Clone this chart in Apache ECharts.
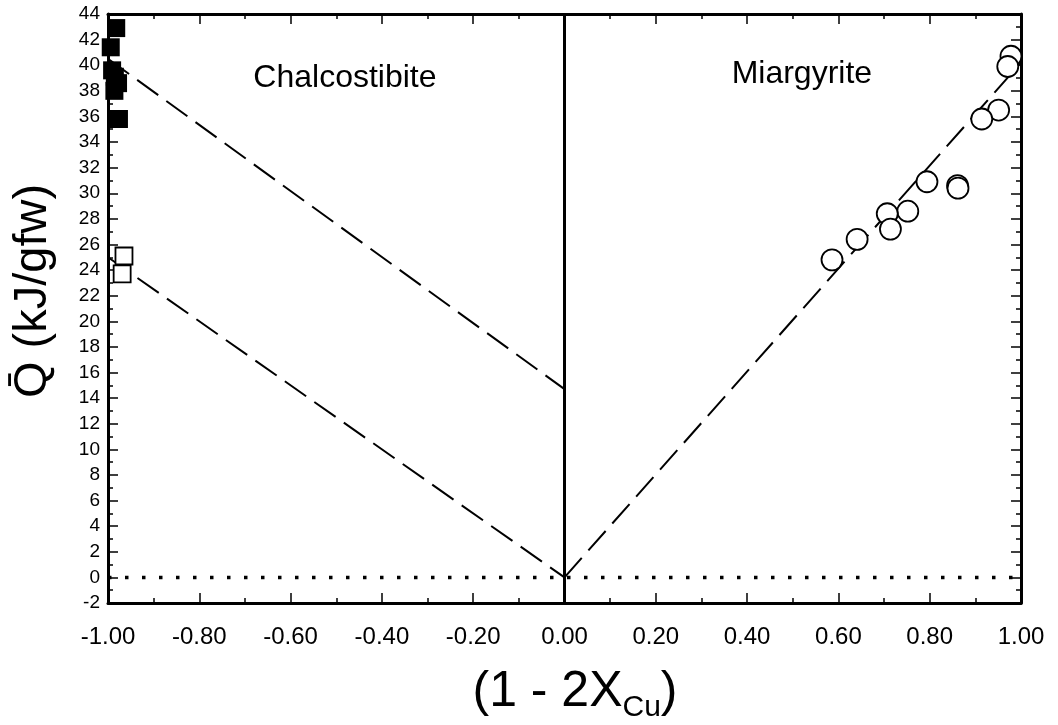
<!DOCTYPE html>
<html>
<head>
<meta charset="utf-8">
<script src="https://cdn.jsdelivr.net/npm/echarts@6/dist/echarts.min.js"></script>
<style>
  html, body { margin: 0; padding: 0; background: #fff; }
  #chart { width: 1058px; height: 725px; }
</style>
</head>
<body>
<div id="chart"></div>
<script>
  // chalcostibite, filled squares
  var chalcFilled = [[-0.982, 42.9], [-0.994, 41.4], [-0.991, 39.6], [-0.985, 39.1], [-0.978, 38.6], [-0.986, 38.0], [-0.976, 35.8]];
  // chalcostibite, open squares
  var chalcOpen = [[-0.965, 25.1], [-0.969, 23.7]];
  // miargyrite, open circles
  var miarg = [[0.978, 40.7], [0.971, 39.9], [0.951, 36.5], [0.914, 35.8], [0.794, 30.9], [0.861, 30.6], [0.862, 30.4],
    [0.752, 28.6], [0.707, 28.4], [0.714, 27.2], [0.641, 26.4], [0.586, 24.8]];
  // dashed fit lines
  var chalcUpperLine = [[-1.0, 40.5], [0.0, 14.7]];
  var chalcLowerLine = [[-1.0, 25.0], [0.0, 0.0]];
  var miargLine = [[0.0, 0.0], [1.0, 40.2]];
  var zeroVertical = [[0.0, -2], [0.0, 44]];
  var zeroHorizontal = [[-1.0, 0.0], [1.0, 0.0]];
  var phaseLabels = [['Chalcostibite', -0.481, 39.0], ['Miargyrite', 0.52, 39.3]];

  var FONT = '"Liberation Sans", Arial, sans-serif';
  var chart = echarts.init(document.getElementById('chart'));

  function axisBase(extra) {
    var a = {
      axisLine: {show: true, onZero: false, lineStyle: {color: '#000', width: 3}},
      axisTick: {show: true, inside: true, length: 10, lineStyle: {color: '#000', width: 1.5}},
      minorTick: {show: true, splitNumber: 2, length: 5, lineStyle: {color: '#000', width: 1.5}},
      splitLine: {show: false},
      minorSplitLine: {show: false}
    };
    for (var k in extra) a[k] = extra[k];
    return a;
  }

  var option = {
    backgroundColor: '#fff',
    animation: false,
    grid: {left: 108, right: 37, top: 14, bottom: 122},
    xAxis: [
      axisBase({
        type: 'value', min: -1, max: 1, interval: 0.2, position: 'bottom',
        axisLabel: {
          color: '#000', fontFamily: FONT, fontSize: 24, margin: 22,
          formatter: function (v) { return v.toFixed(2); }
        }
      }),
      axisBase({
        type: 'value', min: -1, max: 1, interval: 0.2, position: 'top',
        axisLabel: {show: false}
      })
    ],
    yAxis: [
      axisBase({
        type: 'value', min: -2, max: 44, interval: 2, position: 'left',
        axisLabel: {color: '#000', fontFamily: FONT, fontSize: 19, margin: 8}
      }),
      axisBase({
        type: 'value', min: -2, max: 44, interval: 2, position: 'right',
        axisLabel: {show: false}
      })
    ],
    graphic: [
      {
        type: 'text', x: 33, y: 291, rotation: Math.PI / 2,
        style: {
          text: 'Q\u0304 (kJ/gfw)', font: '47px ' + FONT, fill: '#000',
          align: 'center', verticalAlign: 'middle'
        }
      },
      {
        type: 'text', x: 575, y: 695,
        style: {
          text: '{a|(1 - 2X}{b|Cu}{a|)}', fill: '#000',
          align: 'center', verticalAlign: 'middle',
          rich: {
            a: {fontSize: 50, fontFamily: FONT, fill: '#000', verticalAlign: 'top'},
            b: {fontSize: 30, fontFamily: FONT, fill: '#000', verticalAlign: 'top', padding: [26, 0, 0, 0]}
          }
        }
      }
    ],
    series: [
      {
        type: 'line', data: zeroHorizontal, symbol: 'none', z: 1,
        lineStyle: {color: '#000', width: 3.5, type: [3.5, 13.5]}
      },
      {
        type: 'line', data: zeroVertical, symbol: 'none', z: 1,
        lineStyle: {color: '#000', width: 3}
      },
      {
        type: 'line', data: chalcUpperLine, symbol: 'none', z: 1,
        lineStyle: {color: '#000', width: 2, type: [26, 10]}
      },
      {
        type: 'line', data: chalcLowerLine, symbol: 'none', z: 1,
        lineStyle: {color: '#000', width: 2, type: [26, 10]}
      },
      {
        type: 'line', data: miargLine, symbol: 'none', z: 1,
        lineStyle: {color: '#000', width: 2, type: [26, 10]}
      },
      {
        type: 'scatter', data: chalcFilled, symbol: 'rect', symbolSize: 18, z: 3,
        itemStyle: {color: '#000', opacity: 1}
      },
      {
        type: 'scatter', data: chalcOpen, symbol: 'rect', symbolSize: 17, z: 3,
        itemStyle: {color: '#fff', borderColor: '#000', borderWidth: 1.8, opacity: 1}
      },
      {
        type: 'scatter', data: miarg, symbol: 'circle', symbolSize: 21, z: 3,
        itemStyle: {color: '#fff', borderColor: '#000', borderWidth: 1.8, opacity: 1}
      },
      {
        type: 'scatter', symbolSize: 0, z: 4, silent: true,
        itemStyle: {opacity: 1},
        data: phaseLabels.map(function (p) { return {name: p[0], value: [p[1], p[2]]}; }),
        label: {
          show: true, position: 'inside', formatter: '{b}',
          color: '#000', fontFamily: FONT, fontSize: 32
        }
      }
    ]
  };

  chart.setOption(option);
  window.addEventListener('resize', function () {
    chart.resize();
  });
</script>
</body>
</html>
